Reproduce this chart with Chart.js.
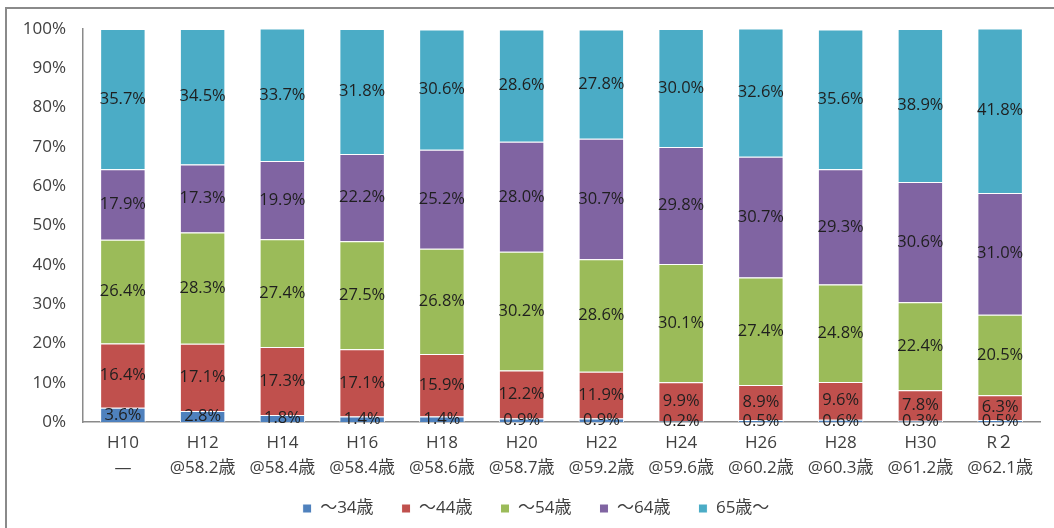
<!DOCTYPE html>
<html>
<head>
<meta charset="utf-8">
<script src="https://cdn.jsdelivr.net/npm/chart.js@4/dist/chart.umd.min.js"></script>
<style>
html,body{margin:0;padding:0;background:#fff;}
#wrap{width:1054px;height:528px;position:relative;}
</style>
</head>
<body>
<div id="wrap"><canvas id="c" width="1054" height="528"></canvas></div>
<script>
const years = ["H10","H12","H14","H16","H18","H20","H22","H24","H26","H28","H30","R２"];
const avgAge = ["—","@58.2歳","@58.4歳","@58.4歳","@58.6歳","@58.7歳","@59.2歳","@59.6歳","@60.2歳","@60.3歳","@61.2歳","@62.1歳"];
const seriesNames = ["～34歳","～44歳","～54歳","～64歳","65歳～"];
const age34 = [3.6,2.8,1.8,1.4,1.4,0.9,0.9,0.2,0.5,0.6,0.3,0.5];
const age44 = [16.4,17.1,17.3,17.1,15.9,12.2,11.9,9.9,8.9,9.6,7.8,6.3];
const age54 = [26.4,28.3,27.4,27.5,26.8,30.2,28.6,30.1,27.4,24.8,22.4,20.5];
const age64 = [17.9,17.3,19.9,22.2,25.2,28.0,30.7,29.8,30.7,29.3,30.6,31.0];
const age65 = [35.7,34.5,33.7,31.8,30.6,28.6,27.8,30.0,32.6,35.6,38.9,41.8];
const colors = ["#4F81BD","#C0504D","#9BBB59","#8064A2","#4BACC6"];

const FONT = "'Open Sans','Noto Sans CJK JP',sans-serif";
const labels = years.map((y,i)=>[y, avgAge[i]]);
const values = [age34,age44,age54,age64,age65];

const frame = {
  id:'frame',
  beforeDraw(chart){
    const ctx = chart.ctx;
    ctx.save();
    ctx.fillStyle='#fff';
    ctx.fillRect(0,0,chart.width,chart.height);
    ctx.strokeStyle='#8a8a8a';
    ctx.lineWidth=2;
    ctx.strokeRect(6,8,1200,700);
    ctx.restore();
  }
};
const legendFix = {
  id:'legendFix',
  beforeUpdate(chart){
    const lg = chart.legend;
    if(lg && !lg._patched){
      const f = lg.fit;
      lg.fit = function(){ f.call(this); this.height = 50; };
      lg._patched = true;
    }
  },
  afterLayout(chart){
    const lg = chart.legend;
    if(lg){ lg.top -= 6; lg.bottom -= 6; lg.left += 16; lg.right += 16; }
  }
};
const valueLabels = {
  id:'valueLabels',
  afterDatasetsDraw(chart){
    const ctx = chart.ctx;
    ctx.save();
    ctx.font = "16.5px " + FONT;
    ctx.fillStyle = '#1f1f1f';
    ctx.textAlign='center';
    ctx.textBaseline='middle';
    chart.data.datasets.forEach((ds,di)=>{
      const meta = chart.getDatasetMeta(di);
      meta.data.forEach((el,i)=>{
        const v = ds.data[i];
        const y = (el.y + el.base)/2;
        ctx.fillText(v.toFixed(1)+'%', el.x, y);
      });
    });
    ctx.restore();
  }
};

new Chart(document.getElementById('c'),{
  type:'bar',
  data:{
    labels,
    datasets: values.map((d,i)=>({
      label: seriesNames[i],
      data: d,
      backgroundColor: colors[i],
      borderColor:'#ffffff',
      borderWidth:1,
      barPercentage:0.57,
      categoryPercentage:1
    }))
  },
  options:{
    responsive:false,
    animation:false,
    layout:{padding:{top:29,right:14,left:0,bottom:0}},
    plugins:{
      tooltip:{enabled:false},
      legend:{
        position:'bottom',
        labels:{
          boxWidth:9, boxHeight:9, padding:28,
          color:'#404040',
          font:{size:17,family:FONT}
        }
      }
    },
    scales:{
      x:{
        stacked:true,
        afterFit(s){ s.height = 56; },
        grid:{display:false, drawTicks:false},
        border:{display:true,color:'#8a8a8a',width:1.5},
        ticks:{color:'#404040',font:{size:17,family:FONT,lineHeight:1.5},padding:8,maxRotation:0,autoSkip:false}
      },
      y:{
        stacked:true,
        min:0,max:100,
        afterFit(s){ s.width = 83; },
        grid:{display:false, drawTicks:false},
        border:{display:true,color:'#8a8a8a',width:1.5},
        ticks:{stepSize:10,color:'#404040',padding:17,font:{size:17,family:FONT},callback:v=>v+'%'}
      }
    }
  },
  plugins:[frame,legendFix,valueLabels]
});
</script>
</body>
</html>
